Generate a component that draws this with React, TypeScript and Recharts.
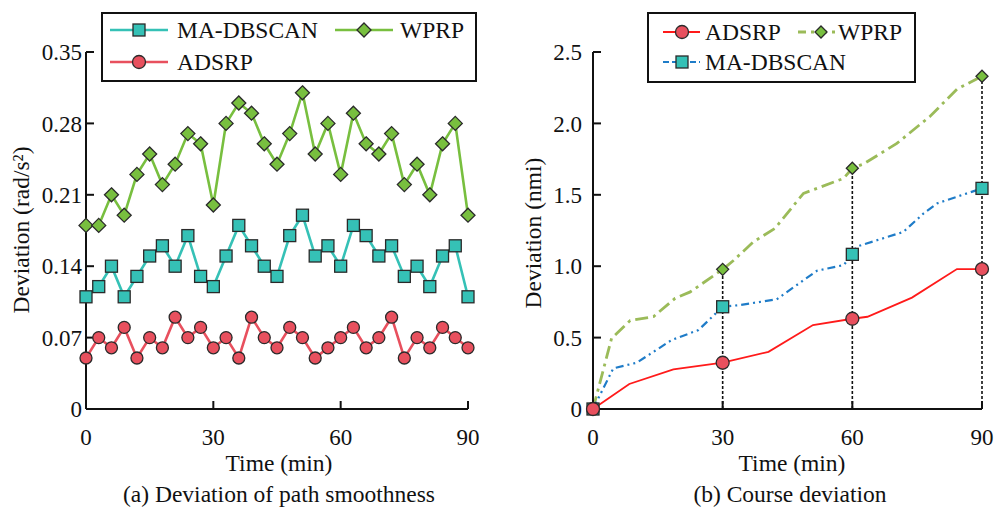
import { Line, LineChart, ReferenceLine, XAxis, YAxis } from 'recharts';

const FONT = '"Liberation Serif", "Times New Roman", serif';

// (a) deviation of path smoothness, sampled every 3 min
const minutes = [0, 3, 6, 9, 12, 15, 18, 21, 24, 27, 30, 33, 36, 39, 42, 45, 48, 51, 54, 57, 60, 63, 66, 69, 72, 75, 78, 81, 84, 87, 90];
const maDbscanSmooth = [0.11, 0.12, 0.14, 0.11, 0.13, 0.15, 0.16, 0.14, 0.17, 0.13, 0.12, 0.15, 0.18, 0.16, 0.14, 0.13, 0.17, 0.19, 0.15, 0.16, 0.14, 0.18, 0.17, 0.15, 0.16, 0.13, 0.14, 0.12, 0.15, 0.16, 0.11];
const wprpSmooth = [0.18, 0.18, 0.21, 0.19, 0.23, 0.25, 0.22, 0.24, 0.27, 0.26, 0.2, 0.28, 0.3, 0.29, 0.26, 0.24, 0.27, 0.31, 0.25, 0.28, 0.23, 0.29, 0.26, 0.25, 0.27, 0.22, 0.24, 0.21, 0.26, 0.28, 0.19];
const adsrpSmooth = [0.05, 0.07, 0.06, 0.08, 0.05, 0.07, 0.06, 0.09, 0.07, 0.08, 0.06, 0.07, 0.05, 0.09, 0.07, 0.06, 0.08, 0.07, 0.05, 0.06, 0.07, 0.08, 0.06, 0.07, 0.09, 0.05, 0.07, 0.06, 0.08, 0.07, 0.06];
const smoothTicks = [0, 0.07, 0.14, 0.21, 0.28, 0.35];
const timeTicks = [0, 30, 60, 90];

// (b) course deviation
const adsrpCourse = [
  { t: 0, v: 0 }, { t: 8.4, v: 0.175 }, { t: 18.6, v: 0.278 }, { t: 30, v: 0.324 }, { t: 40.6, v: 0.4 },
  { t: 50.9, v: 0.588 }, { t: 60, v: 0.632 }, { t: 63.5, v: 0.646 }, { t: 73.8, v: 0.78 }, { t: 84.2, v: 0.98 },
  { t: 90, v: 0.98 },
];
const wprpCourse = [
  { t: 0, v: 0 }, { t: 4.3, v: 0.495 }, { t: 8.6, v: 0.62 }, { t: 14, v: 0.647 }, { t: 19, v: 0.775 },
  { t: 22.5, v: 0.82 }, { t: 30, v: 0.978 }, { t: 32.5, v: 1.04 }, { t: 37.1, v: 1.17 }, { t: 42.1, v: 1.265 },
  { t: 48.7, v: 1.51 }, { t: 58, v: 1.615 }, { t: 60, v: 1.686 }, { t: 62.6, v: 1.716 }, { t: 70.3, v: 1.86 },
  { t: 78, v: 2.05 }, { t: 84.2, v: 2.24 }, { t: 90, v: 2.33 },
];
const maDbscanCourse = [
  { t: 0, v: 0 }, { t: 4.7, v: 0.285 }, { t: 10.1, v: 0.324 }, { t: 18.2, v: 0.483 }, { t: 24.4, v: 0.553 },
  { t: 30, v: 0.716 }, { t: 34, v: 0.728 }, { t: 42.5, v: 0.768 }, { t: 51.8, v: 0.968 }, { t: 58, v: 1.008 },
  { t: 60, v: 1.083 }, { t: 61, v: 1.137 }, { t: 71.8, v: 1.24 }, { t: 76.5, v: 1.37 }, { t: 79.6, v: 1.44 },
  { t: 90, v: 1.545 },
];
const courseTicks = [0, 0.5, 1, 1.5, 2, 2.5];
const markedTimes = [0, 30, 60, 90];
const dropTimes = [30, 60, 90];

const smoothData = minutes.map((t, i) => ({
  t,
  ma: maDbscanSmooth[i],
  wprp: wprpSmooth[i],
  adsrp: adsrpSmooth[i],
}));

const TEAL = '#35c1b6';
const GREEN = '#78bf3f';
const RED = '#e8505e';
const MARK_STROKE = '#2a2a2a';

const Square = ({ cx, cy, s, fill }: any) => (
  <rect x={cx - s / 2} y={cy - s / 2} width={s} height={s} fill={fill} stroke={MARK_STROKE} strokeWidth={1.3} />
);
const Diamond = ({ cx, cy, r, fill }: any) => (
  <polygon points={`${cx},${cy - r} ${cx + r},${cy} ${cx},${cy + r} ${cx - r},${cy}`} fill={fill} stroke={MARK_STROKE} strokeWidth={1.3} />
);
const Circle = ({ cx, cy, r, fill }: any) => <circle cx={cx} cy={cy} r={r} fill={fill} stroke={MARK_STROKE} strokeWidth={1.3} />;

const onlyMarked = (render: (p: any) => any) => (p: any) =>
  markedTimes.includes(p.payload?.t) ? <g key={p.index}>{render(p)}</g> : <g key={p.index} />;

const axisProps = {
  stroke: '#111',
  strokeWidth: 2,
  tickLine: { stroke: '#111', strokeWidth: 2 },
  tickSize: -8,
  tick: { fill: '#111', fontSize: 23, fontFamily: FONT },
};

const LegendIcon = ({ w, children, color, dash, width }: any) => (
  <svg width={w} height={20} style={{ display: 'block' }}>
    <line x1={0} y1={10} x2={w} y2={10} stroke={color} strokeWidth={width} strokeDasharray={dash} />
    {children}
  </svg>
);

const textStyle = (x: number, y: number, rotate = false): React.CSSProperties => ({
  position: 'absolute',
  left: x,
  top: y,
  transform: `translate(-50%, -50%)${rotate ? ' rotate(-90deg)' : ''}`,
  whiteSpace: 'nowrap',
  fontSize: 23.5,
  color: '#111',
});

const legendItem = (x: number, y: number): React.CSSProperties => ({
  position: 'absolute',
  left: x,
  top: y - 10,
  display: 'flex',
  alignItems: 'center',
  height: 20,
  fontSize: 23.5,
  lineHeight: '20px',
  color: '#111',
});

export default function App() {
  const yAt = (t: number) => wprpCourse.find((d) => d.t === t)?.v ?? 0;
  return (
    <div style={{ position: 'absolute', left: 0, top: 0, width: 998, height: 509, background: '#fff', fontFamily: FONT }}>
      <div style={{ position: 'absolute', left: 0, top: 0 }}>
        <LineChart width={490} height={509} data={smoothData} margin={{ top: 52, right: 22, bottom: 70, left: 0 }}>
          <XAxis dataKey="t" type="number" domain={[0, 90]} ticks={timeTicks} height={30} tickMargin={28} {...axisProps} />
          <YAxis type="number" domain={[0, 0.35]} ticks={smoothTicks} width={86} tickMargin={12} tickFormatter={(v: number) => (v === 0 ? '0' : v.toFixed(2))} {...axisProps} />
          <Line dataKey="ma" stroke={TEAL} strokeWidth={2.6} isAnimationActive={false} dot={(p: any) => <Square key={p.index} cx={p.cx} cy={p.cy} s={12} fill={TEAL} />} />
          <Line dataKey="wprp" stroke={GREEN} strokeWidth={2.6} isAnimationActive={false} dot={(p: any) => <Diamond key={p.index} cx={p.cx} cy={p.cy} r={7} fill={GREEN} />} />
          <Line dataKey="adsrp" stroke={RED} strokeWidth={2.6} isAnimationActive={false} dot={(p: any) => <Circle key={p.index} cx={p.cx} cy={p.cy} r={6} fill={RED} />} />
        </LineChart>
      </div>

      <div style={{ position: 'absolute', left: 500, top: 0 }}>
        <LineChart width={498} height={509} margin={{ top: 52, right: 16, bottom: 70, left: 0 }}>
          <XAxis dataKey="t" type="number" domain={[0, 90]} ticks={timeTicks} height={30} tickMargin={28} allowDuplicatedCategory={false} {...axisProps} />
          <YAxis type="number" domain={[0, 2.5]} ticks={courseTicks} width={93} tickMargin={19} tickFormatter={(v: number) => (v === 0 ? '0' : v.toFixed(1))} {...axisProps} />
          {dropTimes.map((t) => (
            <ReferenceLine key={t} segment={[{ x: t, y: 0 }, { x: t, y: yAt(t) }]} stroke="#111" strokeWidth={1.6} strokeDasharray="3 2" />
          ))}
          <Line data={wprpCourse} dataKey="v" stroke="#9bbb59" strokeWidth={2.8} strokeDasharray="13 5 3 5" isAnimationActive={false} dot={onlyMarked((p) => <Diamond cx={p.cx} cy={p.cy} r={6} fill={GREEN} />)} />
          <Line data={maDbscanCourse} dataKey="v" stroke="#1f7cc8" strokeWidth={2.2} strokeDasharray="8 4 2 4 2 4" isAnimationActive={false} dot={onlyMarked((p) => <Square cx={p.cx} cy={p.cy} s={12} fill={TEAL} />)} />
          <Line data={adsrpCourse} dataKey="v" stroke="#ff1a1a" strokeWidth={1.8} isAnimationActive={false} dot={onlyMarked((p) => <Circle cx={p.cx} cy={p.cy} r={6.5} fill={RED} />)} />
        </LineChart>
      </div>

      {/* axis titles and captions */}
      <div style={textStyle(21, 230, true)}>Deviation (rad/s²)</div>
      <div style={textStyle(279, 463)}>Time (min)</div>
      <div style={textStyle(279, 494)}>(a) Deviation of path smoothness</div>
      <div style={textStyle(533, 233, true)}>Deviation (nmi)</div>
      <div style={textStyle(792, 463)}>Time (min)</div>
      <div style={textStyle(790, 494)}>(b) Course deviation</div>

      {/* legend (a) */}
      <div style={{ position: 'absolute', left: 101, top: 12, width: 376, height: 70, border: '2px solid #111', boxSizing: 'border-box', background: '#fff' }} />
      <div style={legendItem(110, 30)}>
        <LegendIcon w={58} color={TEAL} width={2.6}><Square cx={29} cy={10} s={12} fill={TEAL} /></LegendIcon>
        <span style={{ marginLeft: 9 }}>MA-DBSCAN</span>
      </div>
      <div style={legendItem(335, 30)}>
        <LegendIcon w={58} color={GREEN} width={2.6}><Diamond cx={29} cy={10} r={7} fill={GREEN} /></LegendIcon>
        <span style={{ marginLeft: 7 }}>WPRP</span>
      </div>
      <div style={legendItem(110, 62)}>
        <LegendIcon w={58} color={RED} width={2.6}><Circle cx={29} cy={10} r={6.5} fill={RED} /></LegendIcon>
        <span style={{ marginLeft: 9 }}>ADSRP</span>
      </div>

      {/* legend (b) */}
      <div style={{ position: 'absolute', left: 647, top: 12, width: 269, height: 71, border: '2px solid #111', boxSizing: 'border-box', background: '#fff' }} />
      <div style={legendItem(663, 32)}>
        <LegendIcon w={37} color="#ff1a1a" width={1.8}><Circle cx={19} cy={10} r={6.5} fill={RED} /></LegendIcon>
        <span style={{ marginLeft: 5 }}>ADSRP</span>
      </div>
      <div style={legendItem(798, 32)}>
        <LegendIcon w={39} color="#9bbb59" width={2.8} dash="8 5 3 5"><Diamond cx={23} cy={10} r={6} fill={GREEN} /></LegendIcon>
        <span style={{ marginLeft: 1 }}>WPRP</span>
      </div>
      <div style={legendItem(663, 62)}>
        <LegendIcon w={37} color="#1f7cc8" width={2.2} dash="6 3"><Square cx={19} cy={10} s={12} fill={TEAL} /></LegendIcon>
        <span style={{ marginLeft: 5 }}>MA-DBSCAN</span>
      </div>
    </div>
  );
}
